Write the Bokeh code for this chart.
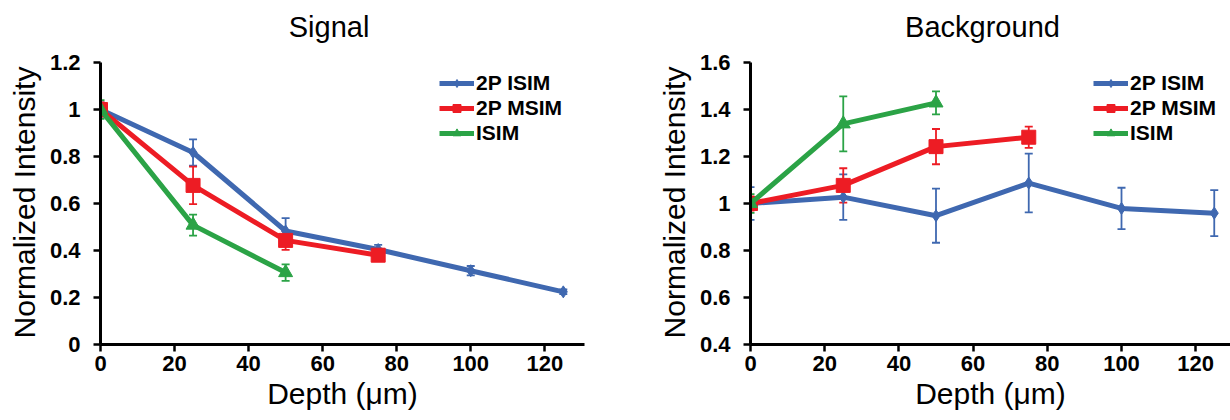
from bokeh.plotting import figure
from bokeh.layouts import row
from bokeh.models import (Range1d, FixedTicker, NumeralTickFormatter, Whisker, TeeHead,
                          ColumnDataSource, Legend, LegendItem, Label)
from bokeh.embed import file_html
from bokeh.resources import INLINE

# ---------------- data ----------------
depth_2pisim = [0, 25, 50, 75, 100, 125]
depth_2pmsim = [0, 25, 50, 75]
depth_isim = [0, 25, 50]

sig_2pisim = [1.0, 0.817, 0.483, 0.404, 0.314, 0.224]
sig_2pisim_err = [0.03, 0.056, 0.055, 0.02, 0.02, 0.01]
sig_2pmsim = [1.0, 0.677, 0.443, 0.38]
sig_2pmsim_err = [0.03, 0.08, 0.04, 0.015]
sig_isim = [1.0, 0.508, 0.306]
sig_isim_err = [0.04, 0.045, 0.035]

bg_2pisim = [1.0, 1.027, 0.948, 1.087, 0.979, 0.959]
bg_2pisim_err = [0.07, 0.097, 0.115, 0.125, 0.088, 0.098]
bg_2pmsim = [1.0, 1.077, 1.242, 1.282]
bg_2pmsim_err = [0.03, 0.073, 0.075, 0.045]
bg_isim = [1.0, 1.339, 1.428]
bg_isim_err = [0.04, 0.117, 0.049]

series_names = ["2P ISIM", "2P MSIM", "ISIM"]
x_ticks = [0, 20, 40, 60, 80, 100, 120]
sig_y_ticks = [0, 0.2, 0.4, 0.6, 0.8, 1.0, 1.2]
bg_y_ticks = [0.4, 0.6, 0.8, 1.0, 1.2, 1.4, 1.6]
y_label = "Normalized Intensity"
x_label = "Depth (μm)"

BLUE = "#3F68B0"
RED = "#ED1C24"
GREEN = "#2BA346"
FONT = "Liberation Sans"
PX_PER_X = 3.71
PX_PER_Y = 282 / 1.2
BOTTOM = 76
H = 420
FRAME_H = H - BOTTOM


def label_strip(width, cx, cy):
    """Narrow figure that only carries the rotated y-axis title."""
    s = figure(width=width, height=H, output_backend="svg", toolbar_location=None,
               x_axis_type=None, y_axis_type=None,
               x_range=Range1d(0, width), y_range=Range1d(0, FRAME_H),
               min_border=0, min_border_left=0, min_border_right=0,
               min_border_top=0, min_border_bottom=BOTTOM)
    s.outline_line_color = None
    s.xgrid.visible = False
    s.ygrid.visible = False
    s.background_fill_color = "white"
    s.border_fill_color = "white"
    s.add_layout(Label(x=cx, y=FRAME_H - cy, text=y_label, angle=90, angle_units="deg",
                       text_align="center", text_baseline="middle",
                       text_font=FONT, text_font_size="30px", text_color="black"))
    return s


def make_panel(title, title_cx, ys, errs, y_bounds, y_ticks, left_border, right_border, frame_w, leg_x):
    width = left_border + frame_w + right_border
    y0 = y_bounds[0]
    y_top = y0 + FRAME_H / PX_PER_Y
    p = figure(width=width, height=H, output_backend="svg", toolbar_location=None,
               x_range=Range1d(0, frame_w / PX_PER_X), y_range=Range1d(y0, y_top),
               min_border_left=left_border, min_border_right=right_border,
               min_border_top=0, min_border_bottom=BOTTOM)
    p.outline_line_color = None
    p.xgrid.visible = False
    p.ygrid.visible = False
    p.background_fill_color = "white"
    p.border_fill_color = "white"

    # title inside the (extended) frame, above the plotted area
    p.add_layout(Label(x=(title_cx - left_border) / PX_PER_X,
                       y=y_top - 26 / PX_PER_Y,
                       text=title, text_align="center", text_baseline="middle",
                       text_font=FONT, text_font_size="29px", text_color="black"))

    for ax in (p.xaxis[0], p.yaxis[0]):
        ax.axis_line_width = 3
        ax.axis_line_color = "black"
        ax.major_tick_line_width = 2.5
        ax.major_tick_in = 0
        ax.major_tick_out = 7
        ax.minor_tick_line_color = None
        ax.major_label_text_font = FONT
        ax.major_label_text_font_style = "bold"
        ax.major_label_text_font_size = "22px"
        ax.major_label_text_color = "black"
        ax.axis_label_text_font = FONT
        ax.axis_label_text_font_style = "normal"
        ax.axis_label_text_font_size = "30px"
        ax.axis_label_text_color = "black"
        ax.formatter = NumeralTickFormatter(format="0.[0]")

    p.yaxis.bounds = y_bounds
    p.xaxis.ticker = FixedTicker(ticks=x_ticks)
    p.yaxis.ticker = FixedTicker(ticks=y_ticks)
    p.xaxis.axis_label = x_label
    p.xaxis.major_label_standoff = 4
    p.xaxis.axis_label_standoff = 3
    p.yaxis.major_label_standoff = 13

    depths = [depth_2pisim, depth_2pmsim, depth_isim]
    colors = [BLUE, RED, GREEN]
    markers = ["diamond", "square", "triangle"]
    sizes = [12, 14, 14]
    items = []
    for d, y, e, c, m, s, name in zip(depths, ys, errs, colors, markers, sizes, series_names):
        src = ColumnDataSource(dict(x=d, y=y,
                                    upper=[a + b for a, b in zip(y, e)],
                                    lower=[a - b for a, b in zip(y, e)]))
        w = Whisker(base="x", upper="upper", lower="lower", source=src,
                    line_color=c, line_width=1.8,
                    upper_head=TeeHead(size=8, line_color=c, line_width=1.8),
                    lower_head=TeeHead(size=8, line_color=c, line_width=1.8))
        p.add_layout(w)
        ln = p.line("x", "y", source=src, line_color=c, line_width=5)
        sc = p.scatter("x", "y", source=src, marker=m, size=s, fill_color=c, line_color=c)
        items.append(LegendItem(label=name, renderers=[ln, sc]))

    leg = Legend(items=items, location=(leg_x, 199))
    leg.border_line_color = None
    leg.background_fill_alpha = 0
    leg.padding = 0
    leg.margin = 0
    leg.spacing = 1
    leg.glyph_width = 35
    leg.glyph_height = 20
    leg.label_height = 20
    leg.label_standoff = 2
    leg.label_text_font = FONT
    leg.label_text_font_size = "21px"
    leg.label_text_font_style = "bold"
    leg.label_text_color = "black"
    p.add_layout(leg)
    return p


s1 = label_strip(46, 24, 202)
p1 = make_panel("Signal", 328 - 46, [sig_2pisim, sig_2pmsim, sig_isim],
                [sig_2pisim_err, sig_2pmsim_err, sig_isim_err],
                (0, 1.2), sig_y_ticks, 53, 31, 485, 339)
s2 = label_strip(80, 59, 202)
p2 = make_panel("Background", 982 - 695, [bg_2pisim, bg_2pmsim, bg_isim],
                [bg_2pisim_err, bg_2pmsim_err, bg_isim_err],
                (0.4, 1.6), bg_y_ticks, 55, 0, 480, 343)

layout = row(s1, p1, s2, p2, spacing=0)
open("out.html", "w").write(file_html(layout, INLINE))
